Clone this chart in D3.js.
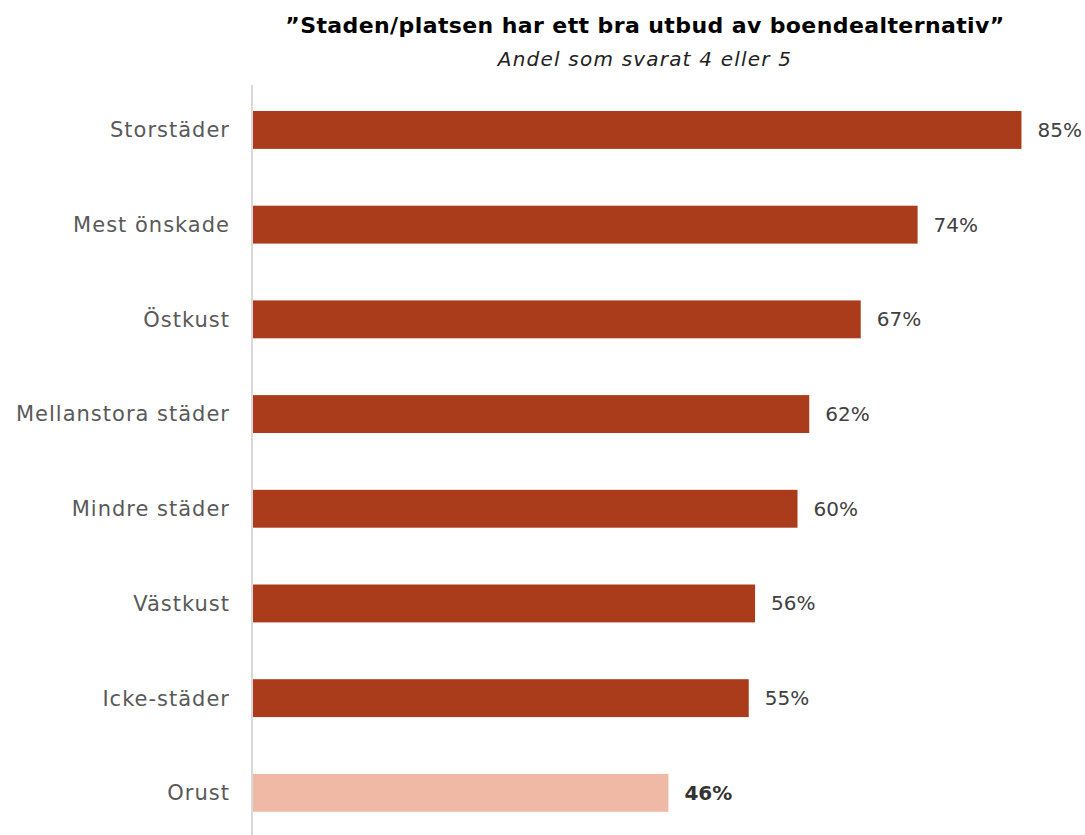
<!DOCTYPE html>
<html>
<head>
<meta charset="utf-8">
<script src="https://cdn.jsdelivr.net/npm/d3@7"></script>
<style>
body { margin: 0; background: #fff; }
</style>
</head>
<body>
<div id="chart"></div>
<script>
var categories = ["Storstäder", "Mest önskade", "Östkust", "Mellanstora städer", "Mindre städer", "Västkust", "Icke-städer", "Orust"];
var values = [0.851, 0.736, 0.673, 0.616, 0.603, 0.556, 0.549, 0.46];
var highlight = ["Orust"];

var svgWidth = 1085;
var svgHeight = 835;

var svg = d3.select("#chart")
  .append("svg")
  .attr("width", svgWidth)
  .attr("height", svgHeight)
  .style("font-family", "'DejaVu Sans', sans-serif");

var data = categories.map(function(c, i) {
  return { name: c, value: values[i] };
});

var x = d3.scaleLinear()
  .domain([0, 1])
  .range([253, 1156]);

var y = d3.scaleBand()
  .domain(categories)
  .range([82.6, 840.2])
  .paddingInner(0.6)
  .paddingOuter(0.3);

// title
svg.append("text")
  .attr("x", 645)
  .attr("y", 33)
  .attr("text-anchor", "middle")
  .attr("font-size", 22)
  .attr("font-weight", "bold")
  .attr("letter-spacing", 0.4)
  .attr("fill", "#000")
  .text("\u201dStaden/platsen har ett bra utbud av boendealternativ\u201d");

svg.append("text")
  .attr("x", 645)
  .attr("y", 66)
  .attr("text-anchor", "middle")
  .attr("font-size", 20)
  .attr("font-style", "italic")
  .attr("letter-spacing", 1.2)
  .attr("fill", "#222")
  .text("Andel som svarat 4 eller 5");

// bars
svg.selectAll(".bar")
  .data(data)
  .enter()
  .append("rect")
  .attr("class", "bar")
  .attr("x", x(0))
  .attr("y", d => y(d.name))
  .attr("width", d => x(d.value) - x(0))
  .attr("height", y.bandwidth())
  .attr("fill", d => highlight.includes(d.name) ? "#f0b9a6" : "#aa3b1b");

// axis line
svg.append("line")
  .attr("x1", 252)
  .attr("x2", 252)
  .attr("y1", 85)
  .attr("y2", 835)
  .attr("stroke", "#d9d9d9")
  .attr("stroke-width", 2);

// category labels
svg.selectAll(".cat")
  .data(data)
  .enter()
  .append("text")
  .attr("class", "cat")
  .attr("x", 230)
  .attr("y", d => y(d.name) + y.bandwidth() / 2)
  .attr("dy", "0.35em")
  .attr("text-anchor", "end")
  .attr("font-size", 21)
  .attr("letter-spacing", 1)
  .attr("fill", "#595959")
  .text(d => d.name);

// value labels
svg.selectAll(".val")
  .data(data)
  .enter()
  .append("text")
  .attr("class", "val")
  .attr("x", d => x(d.value) + 16)
  .attr("y", d => y(d.name) + y.bandwidth() / 2)
  .attr("dy", "0.35em")
  .attr("font-size", 20)
  .attr("font-weight", d => highlight.includes(d.name) ? "bold" : "normal")
  .attr("fill", d => highlight.includes(d.name) ? "#333" : "#404040")
  .text(d => Math.round(d.value * 100) + "%");
</script>
</body>
</html>
